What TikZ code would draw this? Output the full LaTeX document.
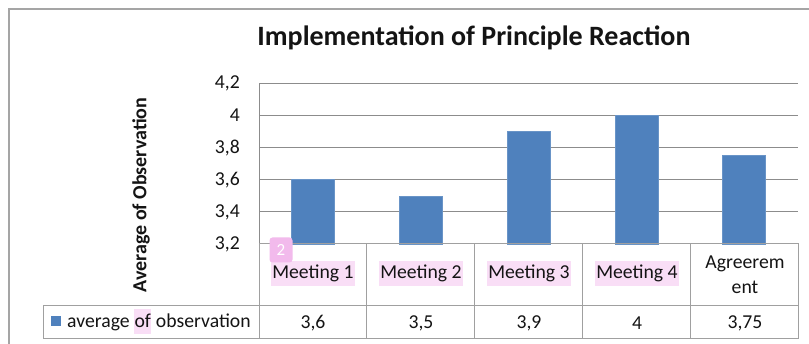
\documentclass[tikz,border=0pt]{standalone}
\usepackage{fontspec}
\setmainfont{Carlito}
\definecolor{barblue}{RGB}{79,129,189}
\definecolor{gridgray}{RGB}{140,140,140}
\definecolor{tabgray}{RGB}{160,160,160}
\definecolor{framegray}{RGB}{165,165,165}
\definecolor{txt}{RGB}{20,20,20}
\definecolor{hl}{RGB}{249,222,246}
\definecolor{badge}{RGB}{242,186,236}
\begin{document}
\begin{tikzpicture}[x=1pt,y=-1pt,
  gridline/.style={draw=gridgray, line width=1pt},
  cell/.style={draw=tabgray, line width=1pt},
  bar/.style={fill=barblue, draw=barblue!85!white, line width=0.6pt},
  lbl/.style={font=\fontsize{19.7}{23}\selectfont, text=txt, inner sep=0pt},
  hlbox/.style={lbl, fill=hl, inner xsep=1.5pt, inner ysep=0pt, text height=17pt, text depth=8pt},
]
\useasboundingbox (0,0) rectangle (809,344);
\fill[white] (0,0) rectangle (809,344);
% outer chart frame
\draw[draw=framegray, line width=1.2pt] (9,344) |- (809,9);
% title
\node[lbl, font=\fontsize{28}{32}\selectfont\bfseries] (title) at (474,38) {Implementation of Principle Reaction};
% y axis title
\node[lbl, font=\fontsize{20}{23}\selectfont\bfseries, rotate=90] (ytitle) at (141,195) {Average of Observation};
% gridlines and tick labels
\foreach \v/\t [count=\i] in {3.2/{3,2},3.4/{3,4},3.6/{3,6},3.8/{3,8},4.0/{4},4.2/{4,2}} {
  \pgfmathsetmacro{\yy}{244-(\v-3.2)*160.5}
  \draw[gridline] (259,\yy) -- (798,\yy);
  \node[lbl, anchor=east] (tick\i) at (240,\yy) {\t};
}
% axis line
\draw[gridline] (259,84) -- (259,244);
% bars
\foreach \v [count=\i] in {3.6,3.5,3.9,4.0,3.75} {
  \pgfmathsetmacro{\cx}{259+(\i-0.5)*107.8}
  \pgfmathsetmacro{\yy}{244-(\v-3.2)*160.5}
  \draw[bar] (\cx-21.5,244) rectangle (\cx+21.5,\yy);
}
% data table
\draw[cell] (259,244) rectangle (798,339);
\draw[cell] (43,306) rectangle (798,339);
\foreach \xx in {366.8,474.6,582.4,690.2} \draw[cell] (\xx,244) -- (\xx,339);
% category labels
\node[hlbox] (c1) at (313,274) {Meeting 1};
\node[hlbox] (c2) at (421,274) {Meeting 2};
\node[hlbox] (c3) at (529,274) {Meeting 3};
\node[hlbox] (c4) at (637,274) {Meeting 4};
\node[lbl, align=center, font=\fontsize{19.7}{25}\selectfont] (c5) at (745,275) {Agreerem\\ent};
% badge
\node[fill=badge, rounded corners=3pt, minimum width=23pt, minimum height=25pt, inner sep=0pt, text=white, font=\fontsize{17}{20}\selectfont] (badge) at (281,250) {2};
% values row
\foreach \t/\xx [count=\i] in {{3,6}/313,{3,5}/421,{3,9}/529,{4}/637,{3,75}/745}
  \node[lbl] (val\i) at (\xx,323) {\t};
% legend
\fill[barblue] (51,316) rectangle (61,326);
\node[lbl, anchor=west] (legend) at (67,322) {average {\setlength{\fboxsep}{0.5pt}\colorbox{hl}{\vphantom{Ag}\smash{of}\rule[-6pt]{0pt}{24pt}}} observation};
\end{tikzpicture}
\end{document}
